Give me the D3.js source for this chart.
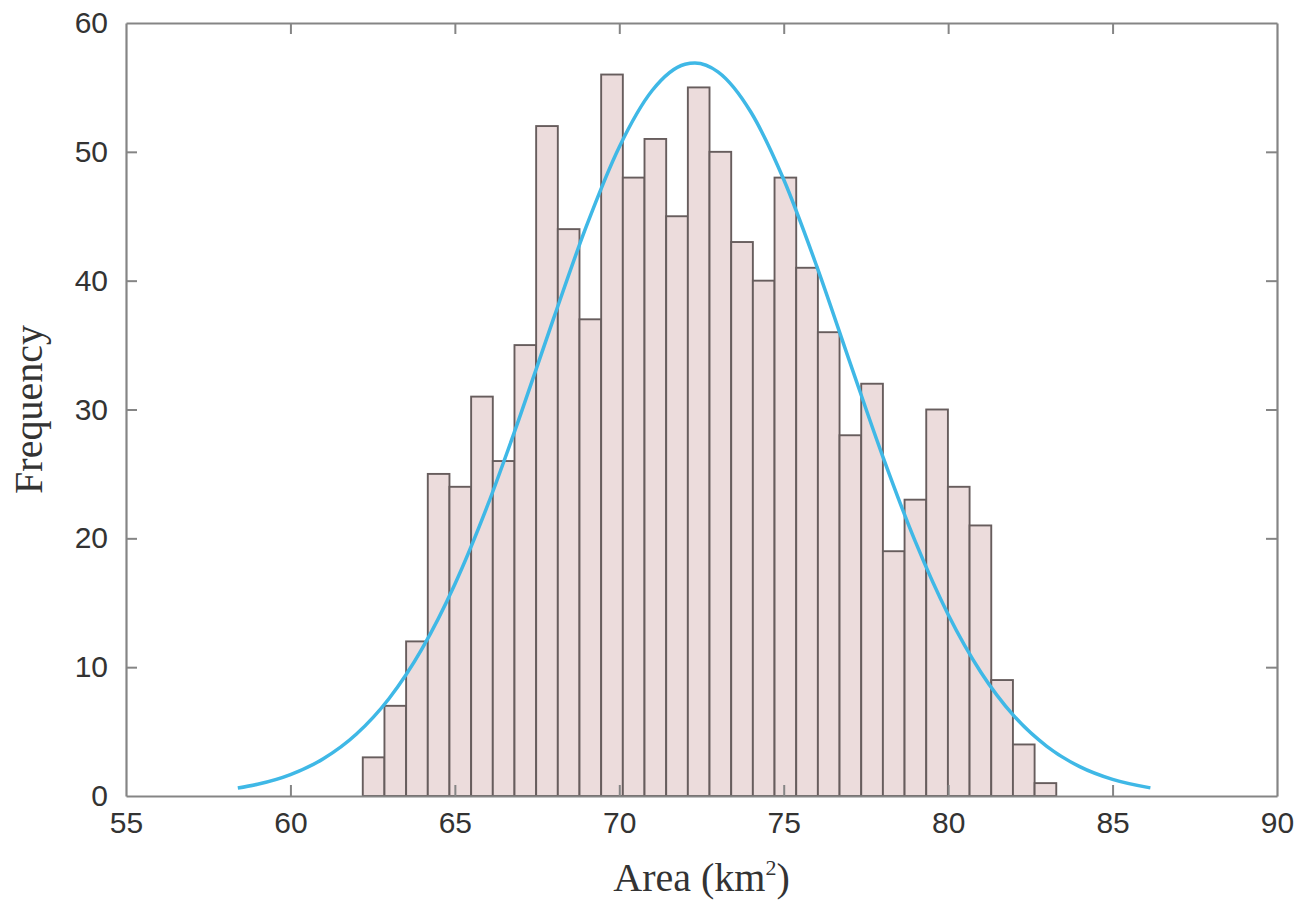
<!DOCTYPE html>
<html>
<head>
<meta charset="utf-8">
<script src="https://cdn.jsdelivr.net/npm/d3@7/dist/d3.min.js"></script>
<style>
  html, body { margin: 0; padding: 0; background: #ffffff; }
  svg { display: block; }
</style>
</head>
<body>
<svg id="chart" width="1308" height="903"></svg>
<script>
// ---- data ----
const binStart = 62.2;      // left edge of first bin (km²)
const binWidth = 0.659;     // bin width (km²)
const frequencies = [3, 7, 12, 25, 24, 31, 26, 35, 52, 44, 37, 56, 48, 51, 45, 55,
                     50, 43, 40, 48, 41, 36, 28, 32, 19, 23, 30, 24, 21, 9, 4, 1];
// fitted curve
const curveX = [58.4, 59, 60, 61, 62, 63, 64, 65, 66, 67, 68, 69, 70, 71, 72, 72.3,
                73, 74, 75, 76, 77, 78, 79, 80, 81, 82, 83, 84, 85, 86.15];
const curveY = [0.62, 0.91, 1.66, 2.89, 4.79, 7.57, 11.42, 16.44, 22.59, 29.62, 37.05,
                44.23, 50.38, 54.76, 56.8, 56.9, 56.21, 53.09, 47.85, 41.15, 33.76,
                26.44, 19.76, 14.09, 9.59, 6.22, 3.86, 2.28, 1.29, 0.63];
const xTicks = [55, 60, 65, 70, 75, 80, 85, 90];
const yTicks = [0, 10, 20, 30, 40, 50, 60];
const xTitle = "Area (km";
const yTitle = "Frequency";

// ---- layout ----
const L = 126, R = 1277, T = 23, B = 796;
const svg = d3.select("#chart");
const x = d3.scaleLinear().domain([55, 90]).range([L, R]);
const y = d3.scaleLinear().domain([0, 60]).range([B, T]);

// bars
const bins = frequencies.map((f, i) => ({x0: binStart + i * binWidth, x1: binStart + (i + 1) * binWidth, f}));
svg.append("g").selectAll("rect").data(bins).join("rect")
  .attr("x", d => x(d.x0))
  .attr("y", d => y(d.f))
  .attr("width", d => x(d.x1) - x(d.x0))
  .attr("height", d => y(0) - y(d.f))
  .attr("fill", "#ecdcdc")
  .attr("stroke", "#675d5d")
  .attr("stroke-width", 1.9);

// fitted curve
const pts = curveX.map((v, i) => [v, curveY[i]]);
svg.append("path")
  .datum(pts)
  .attr("fill", "none")
  .attr("stroke", "#3fb8e6")
  .attr("stroke-width", 3.5)
  .attr("d", d3.line().x(d => x(d[0])).y(d => y(d[1])).curve(d3.curveMonotoneX));

// axes (ticks inward, box)
const tickLen = 11;
const axisColor = "#858585";
const fontTick = "'Liberation Sans', Arial, sans-serif";

const gxB = svg.append("g").attr("transform", `translate(0,${B})`)
  .call(d3.axisBottom(x).tickValues(xTicks).tickSize(-tickLen).tickPadding(16).tickSizeOuter(0));
const gxT = svg.append("g").attr("transform", `translate(0,${T})`)
  .call(d3.axisTop(x).tickValues(xTicks).tickSize(-tickLen).tickFormat("").tickSizeOuter(0));
const gyL = svg.append("g").attr("transform", `translate(${L},0)`)
  .call(d3.axisLeft(y).tickValues(yTicks).tickSize(-tickLen).tickPadding(18).tickSizeOuter(0));
const gyR = svg.append("g").attr("transform", `translate(${R},0)`)
  .call(d3.axisRight(y).tickValues(yTicks).tickSize(-tickLen).tickFormat("").tickSizeOuter(0));

[gxB, gxT, gyL, gyR].forEach(g => {
  g.select(".domain").attr("stroke", axisColor).attr("stroke-width", 2.2);
  g.selectAll(".tick line").attr("stroke", axisColor).attr("stroke-width", 2);
  g.selectAll(".tick text").attr("fill", "#333333")
    .style("font-family", fontTick).style("font-size", "30px");
});
// hide ticks at the box corners
gxB.selectAll(".tick").filter(d => d === 55 || d === 90).select("line").remove();
gxT.selectAll(".tick").filter(d => d === 55 || d === 90).select("line").remove();
gyL.selectAll(".tick").filter(d => d === 0 || d === 60).select("line").remove();
gyR.selectAll(".tick").filter(d => d === 0 || d === 60).select("line").remove();

// titles
const fontTitle = "'Liberation Serif', 'Times New Roman', serif";
const xt = svg.append("text")
  .attr("x", (L + R) / 2).attr("y", 891)
  .attr("text-anchor", "middle")
  .attr("fill", "#333333")
  .style("font-family", fontTitle).style("font-size", "40px");
xt.append("tspan").text(xTitle);
xt.append("tspan").text("2").attr("dy", -16).style("font-size", "22px");
xt.append("tspan").text(")").attr("dy", 16);

svg.append("text")
  .attr("transform", `translate(42,${(T + B) / 2}) rotate(-90)`)
  .attr("text-anchor", "middle")
  .attr("fill", "#333333")
  .style("font-family", fontTitle).style("font-size", "40px")
  .text(yTitle);
</script>
</body>
</html>
